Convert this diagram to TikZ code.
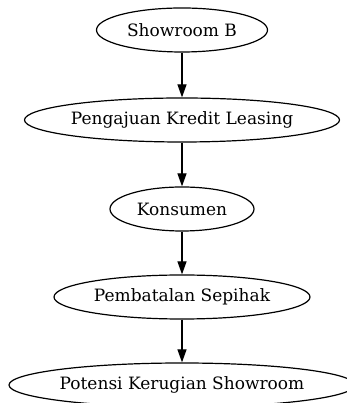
\documentclass[tikz,border=0pt]{standalone}
\usepackage{fontspec}
\setmainfont{DejaVu Serif}
\usetikzlibrary{shapes.geometric,arrows.meta}
\tikzstyle{stage}=[ellipse,draw,line width=1.2pt,inner sep=0pt,minimum height=44pt,font=\fontsize{17}{20}\selectfont]
\tikzstyle{flow}=[-{Triangle[length=13pt,width=9pt]},line width=1.2pt]

\begin{document}
\begin{tikzpicture}
\useasboundingbox (0,0) rectangle (346pt,403pt);
\node[stage,minimum width=171pt] (showroom) at (182pt,373pt) {Showroom B};
\node[stage,minimum width=315pt] (leasing) at (182pt,283pt) {Pengajuan Kredit Leasing};
\node[stage,minimum width=144pt] (konsumen) at (182pt,194pt) {Konsumen};
\node[stage,minimum width=256pt] (batal) at (182pt,106pt) {Pembatalan Sepihak};
\node[stage,minimum width=344pt] (rugi) at (182pt,18pt) {Potensi Kerugian Showroom};
% alur
\draw[flow] (showroom) -- (leasing);
\draw[flow] (leasing) -- (konsumen);
\draw[flow] (konsumen) -- (batal);
\draw[flow] (batal) -- (rugi);
\end{tikzpicture}
\end{document}
